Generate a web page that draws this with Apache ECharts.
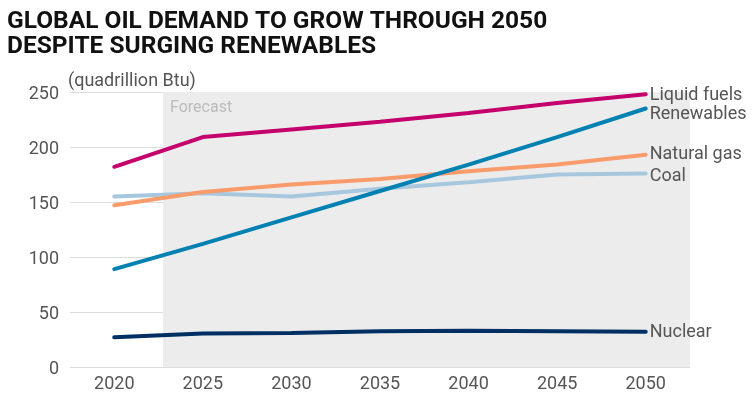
<!DOCTYPE html>
<html>
<head>
<meta charset="utf-8">
<script src="https://cdn.jsdelivr.net/npm/echarts@6/dist/echarts.min.js"></script>
<style>
html, body { margin: 0; padding: 0; background: #fff; }
#chart { width: 756px; height: 399px; }
</style>
</head>
<body>
<div id="chart"></div>
<script>
// data
var years = [2020, 2025, 2030, 2035, 2040, 2045, 2050];
var liquidFuels = [182, 209, 216, 223, 231, 240, 248];
var renewables = [89, 112, 136, 160, 184, 209, 235];
var naturalGas = [147, 159, 166, 171, 178, 184, 193];
var coal = [155, 158, 155, 162, 168, 175, 176];
var nuclear = [27, 30.5, 31, 32.5, 33, 32.5, 32];
var forecastStart = 2022.75;

var labelColor = "#555";
var fontName = "Roboto";

// make [year, value] pairs for the hidden value axis
function pairs(values){
	var out = [];
	for(var i=0; i<years.length; i++) out.push([years[i], values[i]]);
	return out;
}

function lineSeries(name, values, color, offset){
	return {
		name: name,
		type: "line",
		xAxisIndex: 1,
		data: pairs(values),
		symbol: "none",
		lineStyle: {color: color, width: 4, cap: "round"},
		itemStyle: {color: color},
		z: 3,
		endLabel: {
			show: true,
			formatter: name,
			color: labelColor,
			fontFamily: fontName,
			fontSize: 18,
			distance: 4,
			offset: offset || [0, 0]
		}
	};
}

var myChart = echarts.init(document.getElementById("chart"));

var series = [
	{
		name: "forecast",
		type: "line",
		xAxisIndex: 1,
		data: [],
		silent: true,
		markArea: {
			silent: true,
			itemStyle: {color: "#ececec"},
			label: {
				show: true,
				position: "insideTopLeft",
				color: "#bbb",
				fontFamily: fontName,
				fontSize: 16,
				offset: [2, 3]
			},
			data: [[
				{name: "Forecast", xAxis: forecastStart, yAxis: 0},
				{xAxis: 2052.5, yAxis: 250}
			]]
		}
	},
	lineSeries("Nuclear", nuclear, "#002f63", [0, 1]),
	lineSeries("Coal", coal, "#a7c7df", [0, 3]),
	lineSeries("Natural gas", naturalGas, "#f99b6b", [0, 0]),
	lineSeries("Renewables", renewables, "#0081b2", [0, 6]),
	lineSeries("Liquid fuels", liquidFuels, "#c4006c", [0, 1])
];

myChart.setOption({
	animation: false,
	title: [
		{
			text: "GLOBAL OIL DEMAND TO GROW THROUGH 2050\nDESPITE SURGING RENEWABLES",
			left: 2,
			top: 4,
			textStyle: {fontFamily: fontName, fontWeight: "bold", fontSize: 24.5, lineHeight: 25, color: "#111"}
		},
		{
			text: "(quadrillion Btu)",
			left: 63,
			top: 67,
			textStyle: {fontFamily: fontName, fontWeight: "normal", fontSize: 18, color: labelColor}
		}
	],
	grid: {left: 70, right: 66, top: 92, bottom: 32},
	xAxis: [
		{
			type: "category",
			data: years,
			boundaryGap: true,
			axisLine: {show: false},
			axisTick: {show: false},
			axisLabel: {color: labelColor, fontFamily: fontName, fontSize: 18, margin: 8}
		},
		{
			type: "value",
			min: 2017.5,
			max: 2052.5,
			show: false
		}
	],
	yAxis: {
		type: "value",
		min: 0,
		max: 250,
		interval: 50,
		axisLine: {show: false},
		axisTick: {show: false},
		splitLine: {lineStyle: {color: "#ddd", width: 1}},
		axisLabel: {
			color: labelColor,
			fontFamily: fontName,
			fontSize: 18,
			margin: 11,
			formatter: "{v|{value}}",
			rich: {v: {color: labelColor, fontFamily: fontName, fontSize: 18, padding: [5, 0, 0, 0]}}
		}
	},
	series: series
});
</script>
</body>
</html>
